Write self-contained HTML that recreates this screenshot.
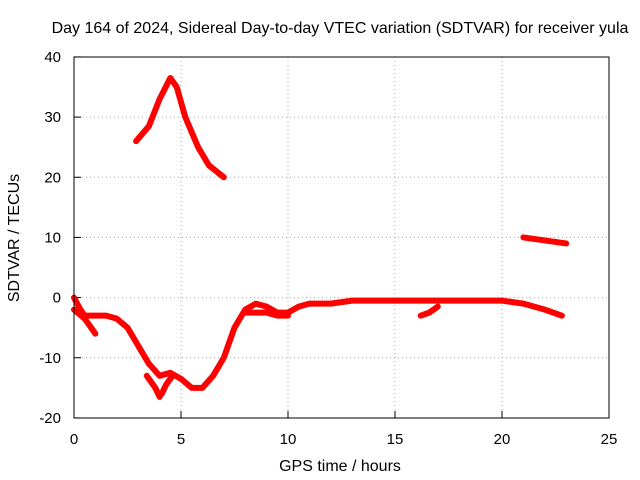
<!DOCTYPE html>
<html><head><meta charset="utf-8"><style>
body{margin:0;background:#fff;}
svg{display:block;font-family:"Liberation Sans",sans-serif;}
</style></head><body>
<svg id="chart" width="640" height="480">
<text x="340" y="33" text-anchor="middle" font-size="16">Day 164 of 2024, Sidereal Day-to-day VTEC variation (SDTVAR) for receiver yula</text>
<text x="340" y="471" text-anchor="middle" font-size="16">GPS time / hours</text>
<text x="19" y="238" text-anchor="middle" font-size="16" transform="rotate(-90 19 238)">SDTVAR / TECUs</text>
<g id="grid"></g><g id="ticks"></g><g id="series"></g>
<rect x="74" y="57" width="535" height="361" fill="none" stroke="#000" stroke-width="1"/>
</svg>
<script>
const xTicks=[0,5,10,15,20,25];
const yTicks=[-20,-10,0,10,20,30,40];
const mainT=[0,0.3,0.5,1,1.5,2,2.5,3,3.5,4,4.5,5,5.5,6,6.5,7,7.5,8,8.5,9,9.5,10,10.5,11,12,13,14,15,16,17,18,19,20,21,22,22.8];
const mainV=[0,-2,-3,-3,-3,-3.5,-5,-8,-11,-13,-12.5,-13.5,-15,-15,-13,-10,-5,-2,-1,-1.5,-2.5,-2.5,-1.5,-1,-1,-0.5,-0.5,-0.5,-0.5,-0.5,-0.5,-0.5,-0.5,-1,-2,-3];
const branch1T=[0,0.5,1];
const branch1V=[-2,-3.5,-6];
const branch2T=[3.4,3.8,4.0];
const branch2V=[-13,-15,-16.5];
const branch3T=[4.1,4.3,4.6];
const branch3V=[-16,-14.5,-13];
const branch4T=[8,8.5,9,9.5,10];
const branch4V=[-2.5,-2.5,-2.5,-3,-3];
const branch5T=[16.2,16.6,17];
const branch5V=[-3,-2.5,-1.5];
const peakT=[2.9,3.5,4,4.5,4.8,5.2,5.8,6.3,7];
const peakV=[26,28.5,33,36.5,35,30,25,22,20];
const lateT=[21,22,23];
const lateV=[10,9.5,9];
const X=t=>74+t*535/25;
const Y=v=>297.6-v*361/60;
const NS="http://www.w3.org/2000/svg";
const grid=document.getElementById('grid'),ticks=document.getElementById('ticks'),ser=document.getElementById('series');
function mk(tag,attrs,parent){const e=document.createElementNS(NS,tag);for(const k in attrs)e.setAttribute(k,attrs[k]);parent.appendChild(e);return e;}
xTicks.forEach(t=>{
 if(t>0&&t<25){const l=mk('line',{x1:X(t),x2:X(t),y1:57,y2:418,stroke:'#aaa','stroke-dasharray':'1,3'},grid);
 
 }
 const tx=mk('text',{x:X(t),y:444,'text-anchor':'middle','font-size':15},ticks);tx.textContent=t;
 
 
 mk('line',{x1:X(t),x2:X(t),y1:418,y2:411,stroke:'#000'},ticks);
});
yTicks.forEach(v=>{
 if(v>-20&&v<40){const l=mk('line',{x1:74,x2:609,y1:Y(v),y2:Y(v),stroke:'#aaa','stroke-dasharray':'1,3'},grid);
 
 }
 const tx=mk('text',{x:61,y:Y(v)+5,'text-anchor':'end','font-size':15},ticks);tx.textContent=v;
 
 
 mk('line',{x1:74,x2:81,y1:Y(v),y2:Y(v),stroke:'#000'},ticks);
});
[[mainT,mainV,'main'],[branch1T,branch1V,'b1'],[branch2T,branch2V,'b2'],[branch3T,branch3V,'b3'],[branch4T,branch4V,'b4'],[branch5T,branch5V,'b5'],[peakT,peakV,'peak'],[lateT,lateV,'late']].forEach(([T,V,n])=>{
 const pts=T.map((t,i)=>X(t)+','+Y(V[i])).join(' ');
 const p=mk('polyline',{points:pts,fill:'none',stroke:'#f00','stroke-width':6,'stroke-linejoin':'round','stroke-linecap':'round'},ser);
 
 
});
</script>
</body></html>
